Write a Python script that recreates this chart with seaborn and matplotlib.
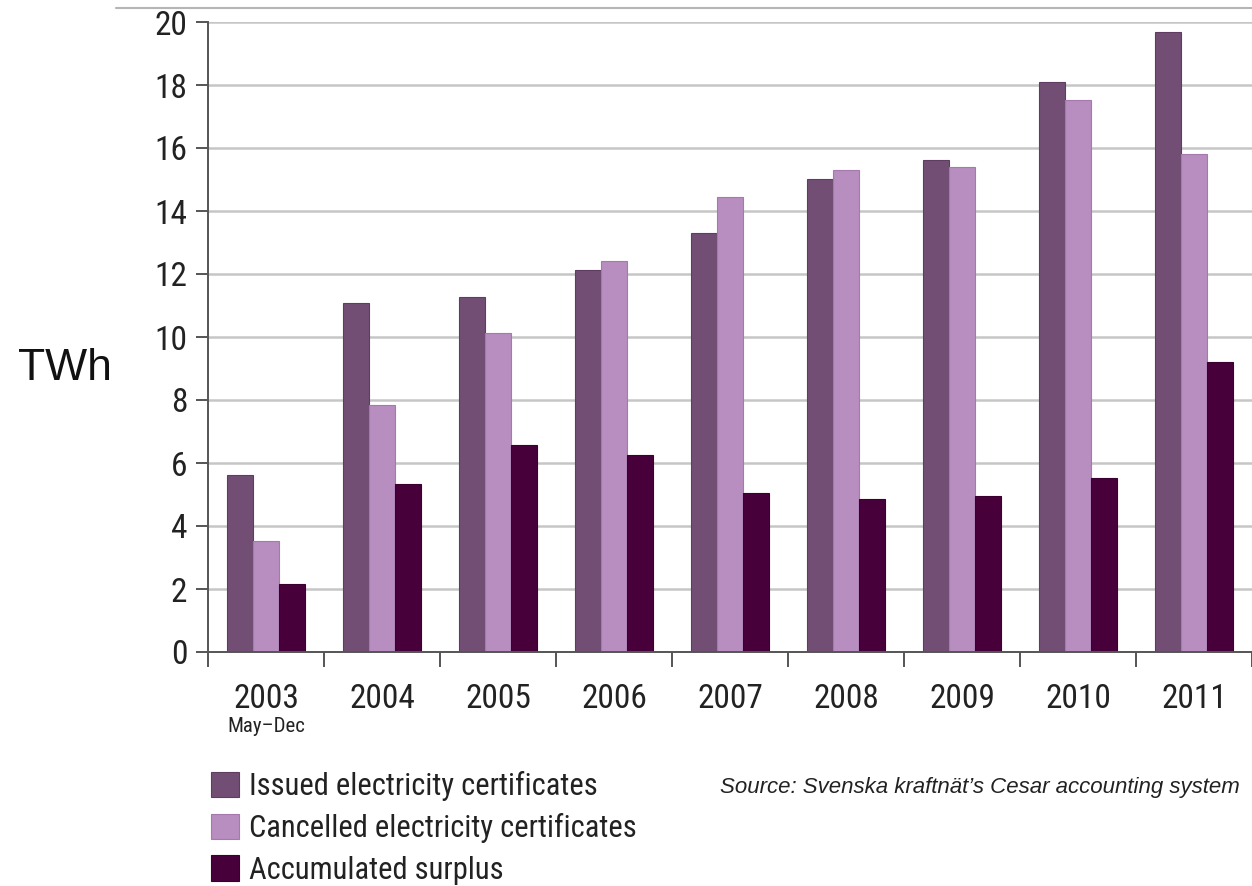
import matplotlib
matplotlib.use("Agg")
import matplotlib.pyplot as plt
from matplotlib.lines import Line2D
from matplotlib.patches import Patch
import seaborn as sns
import pandas as pd
import numpy as np

years = ["2003", "2004", "2005", "2006", "2007", "2008", "2009", "2010", "2011"]
issued = [5.62, 11.08, 11.27, 12.13, 13.30, 15.02, 15.62, 18.10, 19.68]
cancelled = [3.52, 7.84, 10.13, 12.41, 14.44, 15.30, 15.40, 17.52, 15.81]
surplus = [2.17, 5.33, 6.57, 6.25, 5.05, 4.86, 4.95, 5.52, 9.21]
series_names = ["Issued electricity certificates",
                "Cancelled electricity certificates",
                "Accumulated surplus"]
colors = ["#724e74", "#b88ec0", "#48003a"]
edge_colors = ["#5e3d60", "#a47aac", "#3a002f"]

df = pd.DataFrame({
    "year": years * 3,
    "series": np.repeat(series_names, len(years)),
    "value": issued + cancelled + surplus,
})

sns.set_theme(style="white")
narrow = ["Roboto Condensed", "IBM Plex Sans Condensed", "DejaVu Sans"]
plain = ["Liberation Sans", "DejaVu Sans"]
plt.rcParams["font.family"] = narrow

W, H = 1252, 886
fig = plt.figure(figsize=(W / 100, H / 100), dpi=100)
ax = fig.add_axes([208 / W, (H - 652) / H, 1044 / W, 630 / H])

sns.barplot(data=df, x="year", y="value", hue="series", hue_order=series_names,
            palette=colors, width=0.67, gap=0, ax=ax, legend=False,
            saturation=1)
for container, ec in zip(ax.containers, edge_colors):
    for bar in container:
        bar.set_edgecolor(ec)
        bar.set_linewidth(0.8)

ax.set_ylim(0, 20)
ax.set_xlim(-0.5, -0.5 + 1044 / 116.6)
ax.set_yticks(range(0, 21, 2))
ax.yaxis.grid(True, color="#c6c6c6", linewidth=1.8)
ax.set_axisbelow(True)
for s in ["top", "right"]:
    ax.spines[s].set_visible(False)
for s in ["left", "bottom"]:
    ax.spines[s].set_color("#555555")
    ax.spines[s].set_linewidth(1.4)

ax.tick_params(axis="y", which="major", left=True, length=9, width=1.4,
               color="#555555", labelsize=24, labelcolor="#222222", pad=6)
ax.set_xticks(np.arange(-0.5, 9, 1.0))
ax.set_xticklabels([])
ax.tick_params(axis="x", which="major", bottom=True, length=11, width=1.4,
               color="#555555")
ax.set_xticks(np.arange(len(years)), minor=True)
ax.set_xticklabels(years, minor=True)
ax.tick_params(axis="x", which="minor", length=0, labelsize=24,
               labelcolor="#222222", pad=22)
ax.set_xlabel("")
ax.set_ylabel("")

# first year covers only part of the year
ax.text(0, -75 / 630, "May\u2013Dec", transform=ax.get_xaxis_transform(),
        ha="center", va="center", fontsize=15, color="#222222")

fig.text(65 / W, 1 - 368 / H, "TWh", ha="center", va="center",
         fontsize=32, color="#111111", family=plain)

# rule across the top of the figure
fig.add_artist(Line2D([116 / W, 1.0], [1 - 8 / H, 1 - 8 / H],
                      transform=fig.transFigure, color="#b5b5b5", linewidth=1.5))

handles = [Patch(facecolor=c, edgecolor=e, linewidth=0.8)
           for c, e in zip(colors, edge_colors)]
fig.legend(handles, series_names, loc="upper left",
           bbox_to_anchor=(211 / W, 1 - 771 / H), frameon=False,
           fontsize=22, handlelength=0.9, handleheight=0.9,
           handletextpad=0.35, labelspacing=0.4, borderaxespad=0,
           borderpad=0, labelcolor="#222222")

fig.text(1240 / W, 1 - 787 / H,
         "Source: Svenska kraftn\u00e4t\u2019s Cesar accounting system",
         ha="right", va="center", fontsize=16, style="italic",
         color="#222222", family=plain)

fig.savefig("out.png", dpi=100)
